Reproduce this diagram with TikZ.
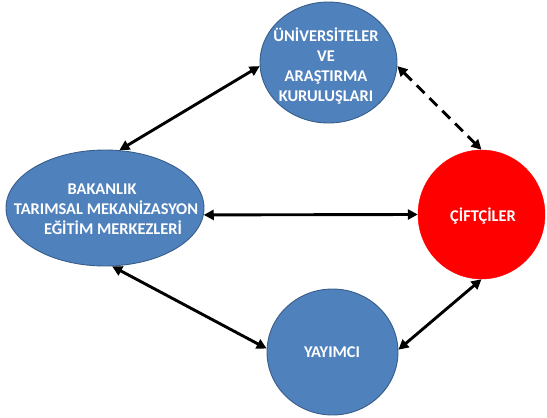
\documentclass[tikz,border=0pt]{standalone}
\usepackage{fontspec}
\setmainfont{Carlito}
\usetikzlibrary{arrows.meta,shapes.geometric}
\definecolor{nodeblue}{HTML}{4F81BD}
\definecolor{nodeedge}{HTML}{385D8A}
\begin{document}
\begin{tikzpicture}[x=1pt,y=-1pt,
  blob/.style={ellipse, inner sep=0pt, fill=nodeblue, draw=nodeedge, line width=0.9pt},
  redblob/.style={ellipse, inner sep=0pt, fill=red, draw=red},
  lbl/.style={text=white, font=\fontsize{16.4}{20}\selectfont\bfseries, align=center, inner sep=0pt},
  conn/.style={line width=2.9pt, {Triangle[length=10pt,width=10pt]}-{Triangle[length=10pt,width=10pt]}},
  dashconn/.style={conn, dash pattern=on 11pt off 7pt}
]
\useasboundingbox (0,0) rectangle (547,418);
\node[blob, minimum width=137pt, minimum height=121pt] (uni) at (328.5,62.5) {};
\node[blob, minimum width=198pt, minimum height=116pt] (bak) at (105,208) {};
\node[redblob, minimum width=127pt, minimum height=129pt] (cift) at (481.5,214.5) {};
\node[blob, minimum width=131pt, minimum height=126pt] (yay) at (332.5,352) {};

\node[lbl] (unit) at (326,66.5) {ÜNİVERSİTELER\\VE\\ARAŞTIRMA\\KURULUŞLARI};
\node[lbl] (bakt) at (106,209) {\hspace*{-8pt}BAKANLIK\\TARIMSAL MEKANİZASYON\\\hspace*{14pt}EĞİTİM MERKEZLERİ};
\node[lbl] (ciftt) at (483,216) {ÇİFTÇİLER};
\node[lbl] (yayt) at (332,352) {YAYIMCI};

\draw[conn] (bak.76) -- (uni.183);
\draw[dashconn] (uni.357) -- (cift.90);
\draw[conn] (bak.-4) -- (cift.180);
\draw[conn] (bak.277) -- (yay.177);
\draw[conn] (yay.2) -- (cift.270);
\end{tikzpicture}
\end{document}
